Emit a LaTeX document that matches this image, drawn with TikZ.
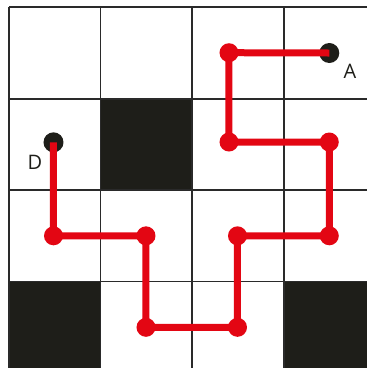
\documentclass[tikz,border=0pt]{standalone}
\usepackage{fontspec}
\setmainfont{Open Sans}
\definecolor{wallc}{HTML}{1E1E19}
\definecolor{pathred}{HTML}{E30613}
\definecolor{gridc}{HTML}{2A2A2A}
\begin{document}
\begin{tikzpicture}[x=1pt,y=-1pt,
  gridline/.style={draw=gridc,line width=1.8},
  wall/.style={fill=wallc},
  route/.style={draw=pathred,line width=7,line join=miter},
  reddot/.style={circle,fill=pathred,minimum size=19,inner sep=0},
  enddot/.style={circle,fill=wallc,minimum size=20,inner sep=0},
  lbl/.style={font=\fontsize{20}{24}\selectfont,text=wallc,inner sep=0}]
\useasboundingbox (0,0) rectangle (367,368);
\begin{scope}
\clip (0,0) rectangle (367,368);
\fill[wall] (100.6,99) rectangle (192.3,190);
\fill[wall] (9,281.5) rectangle (100.6,380);
\fill[wall] (284,281.5) rectangle (380,380);
\foreach \x in {9,100.6,192.3,284} \draw[gridline] (\x,7) -- (\x,380);
\foreach \y in {7,99,190,281.5} \draw[gridline] (9,\y) -- (380,\y);
\end{scope}
\node[enddot] (A) at (329.3,53) {};
\node[enddot] (D) at (53.5,142.3) {};
\node[lbl] (la) at (350,71.5) {A};
\node[lbl] (ld) at (35,162) {D};
\coordinate (p1) at (229,52.7);
\coordinate (p2) at (229,142);
\coordinate (p3) at (329.3,142);
\coordinate (p4) at (329.3,235.8);
\coordinate (p5) at (237.5,235.8);
\coordinate (p6) at (237.5,327.3);
\coordinate (p7) at (146,327.3);
\coordinate (p8) at (146,235.8);
\coordinate (p9) at (53.5,235.8);
\draw[route] (A.center) -- (p1) -- (p2) -- (p3) -- (p4) -- (p5) -- (p6) -- (p7) -- (p8) -- (p9) -- (D.center);
\foreach \p in {p1,p2,p3,p4,p5,p6,p7,p8,p9} \node[reddot] (d\p) at (\p) {};
\end{tikzpicture}
\end{document}
